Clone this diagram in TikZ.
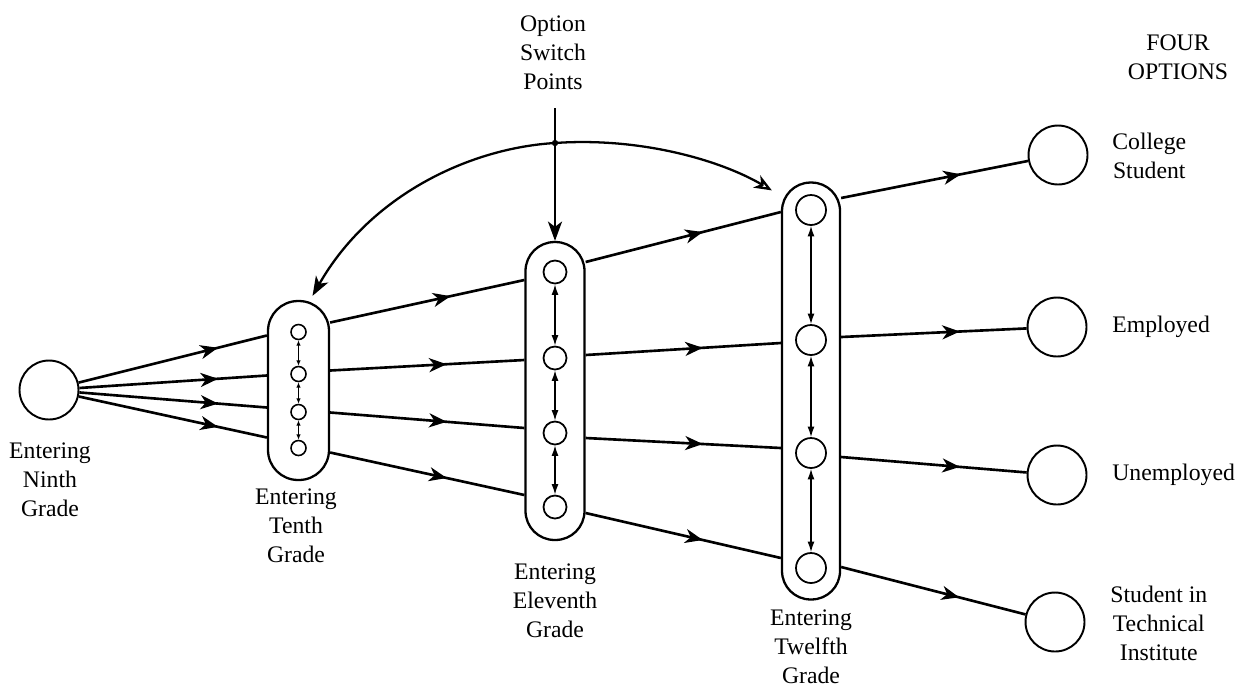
\documentclass[tikz,border=0pt]{standalone}
\usepackage{fontspec}
\setmainfont{Liberation Serif}
\usetikzlibrary{arrows.meta,calc,decorations.markings}

\begin{document}
\begin{tikzpicture}[x=0.02cm,y=-0.02cm,
    lbl/.style={align=center,inner sep=0pt,font=\fontsize{13.5}{16.5}\selectfont},
    option/.style={circle,draw,line width=1.1pt,minimum size=1.18cm,inner sep=0pt},
    capsule/.style={draw,line width=1.3pt,inner sep=0pt},
    flow/.style={line width=1.5pt,postaction={decorate},
        decoration={markings,mark=at position #1 with {\arrow{Stealth[length=10pt,width=8pt,inset=3pt]}}}},
    flow/.default=0.6,
    openflow/.style={line width=1.5pt,postaction={decorate},
        decoration={markings,mark=at position #1 with {\arrow{Stealth[open,length=10pt,width=8pt,inset=3pt]}}}},
    openflow/.default=0.6,
    swap/.style={line width=#1,{Latex[length=6pt,width=4pt]}-{Latex[length=6pt,width=4pt]}},
    swap/.default=0.8pt]
    \useasboundingbox (0,0) rectangle (1236,687);

    % grade stages
    \node[option] (ninth) at (49,390) {};
    \node[capsule,minimum width=1.22cm,minimum height=3.58cm,rounded corners=0.6cm] (tenth) at (298.5,390.5) {};
    \node[capsule,minimum width=1.18cm,minimum height=5.96cm,rounded corners=0.58cm] (eleventh) at (555,391) {};
    \node[capsule,minimum width=1.16cm,minimum height=8.34cm,rounded corners=0.57cm] (twelfth) at (811,391) {};

    \foreach \i/\y in {1/332,2/374,3/412,4/448}
        \node[circle,draw,line width=0.9pt,minimum size=0.3cm,inner sep=0pt] (t\i) at (298.5,\y) {};
    \foreach \i/\y in {1/272,2/358,3/433,4/507}
        \node[circle,draw,line width=1pt,minimum size=0.46cm,inner sep=0pt] (e\i) at (555,\y) {};
    \foreach \i/\y in {1/210,2/340,3/453,4/568}
        \node[circle,draw,line width=1pt,minimum size=0.6cm,inner sep=0pt] (w\i) at (811,\y) {};

    \foreach \a/\b in {1/2,2/3,3/4} {
        \draw[line width=0.9pt,{Latex[length=3pt,width=2.5pt]}-{Latex[length=3pt,width=2.5pt]}] (t\a) -- (t\b);
        \draw[swap] (e\a) -- (e\b);
        \draw[swap] (w\a) -- (w\b);
    }

    % four options
    \node[option] (college) at (1058,155) {};
    \node[option] (employed) at (1057,327) {};
    \node[option] (unemployed) at (1057,475) {};
    \node[option] (technical) at (1055,622) {};

    % paths between stages
    \foreach \dy in {-55,-15,17,47}
        \draw[flow=0.74] (ninth) -- ($(tenth.west)+(0,\dy)$);
    \draw[openflow=0.62] ($(tenth.east)+(0,-68)$) -- ($(eleventh.west)+(0,-111)$);
    \foreach \a/\b in {-20/-31,22/37,62/104}
        \draw[flow] ($(tenth.east)+(0,\a)$) -- ($(eleventh.west)+(0,\b)$);
    \foreach \a/\b in {-129/-179,-36/-48,47/57,122/167}
        \draw[flow] ($(eleventh.east)+(0,\a)$) -- ($(twelfth.west)+(0,\b)$);
    \foreach \a/\n in {-193/college,-54/employed,66/unemployed,176/technical}
        \draw[flow=0.64] ($(twelfth.east)+(0,\a)$) -- (\n);

    % switch points
    \coordinate (switchtop) at (555,108);
    \coordinate (switch) at (555,143);
    \draw[line width=1.3pt,-{Stealth[length=11pt,width=8pt,inset=3pt]}] (switchtop) -- (eleventh.north);
    \draw[line width=1.3pt,-{Stealth[length=11pt,width=8pt,inset=3pt]}]
        (switch) .. controls (470,148) and (370,195) .. ($(tenth.north)+(14,-4)$);
    \draw[line width=1.3pt,-{Stealth[open,length=10pt,width=8pt,inset=3pt]}]
        (switch) .. controls (640,137) and (720,160) .. ($(twelfth.north west)+(-9,9)$);
    \fill (switch) circle (1.8pt);

    % labels
    \node[lbl] (switchlbl) at (553,53) {Option\\Switch\\Points};
    \node[lbl] (fourlbl) at (1178,57) {FOUR\\OPTIONS};
    \node[lbl] (ninthlbl) at (50,480) {Entering\\Ninth\\Grade};
    \node[lbl] (tenthlbl) at (296,526) {Entering\\Tenth\\Grade};
    \node[lbl] (eleventhlbl) at (555,601) {Entering\\Eleventh\\Grade};
    \node[lbl] (twelfthlbl) at (811,647) {Entering\\Twelfth\\Grade};
    \node[lbl,anchor=west] (collegelbl) at (1112,156) {College\\Student};
    \node[lbl,anchor=west] (employedlbl) at (1112,327) {Employed};
    \node[lbl,anchor=west] (unemployedlbl) at (1112,475) {Unemployed};
    \node[lbl,anchor=west] (technicallbl) at (1110,623) {Student in\\Technical\\Institute};
\end{tikzpicture}
\end{document}
